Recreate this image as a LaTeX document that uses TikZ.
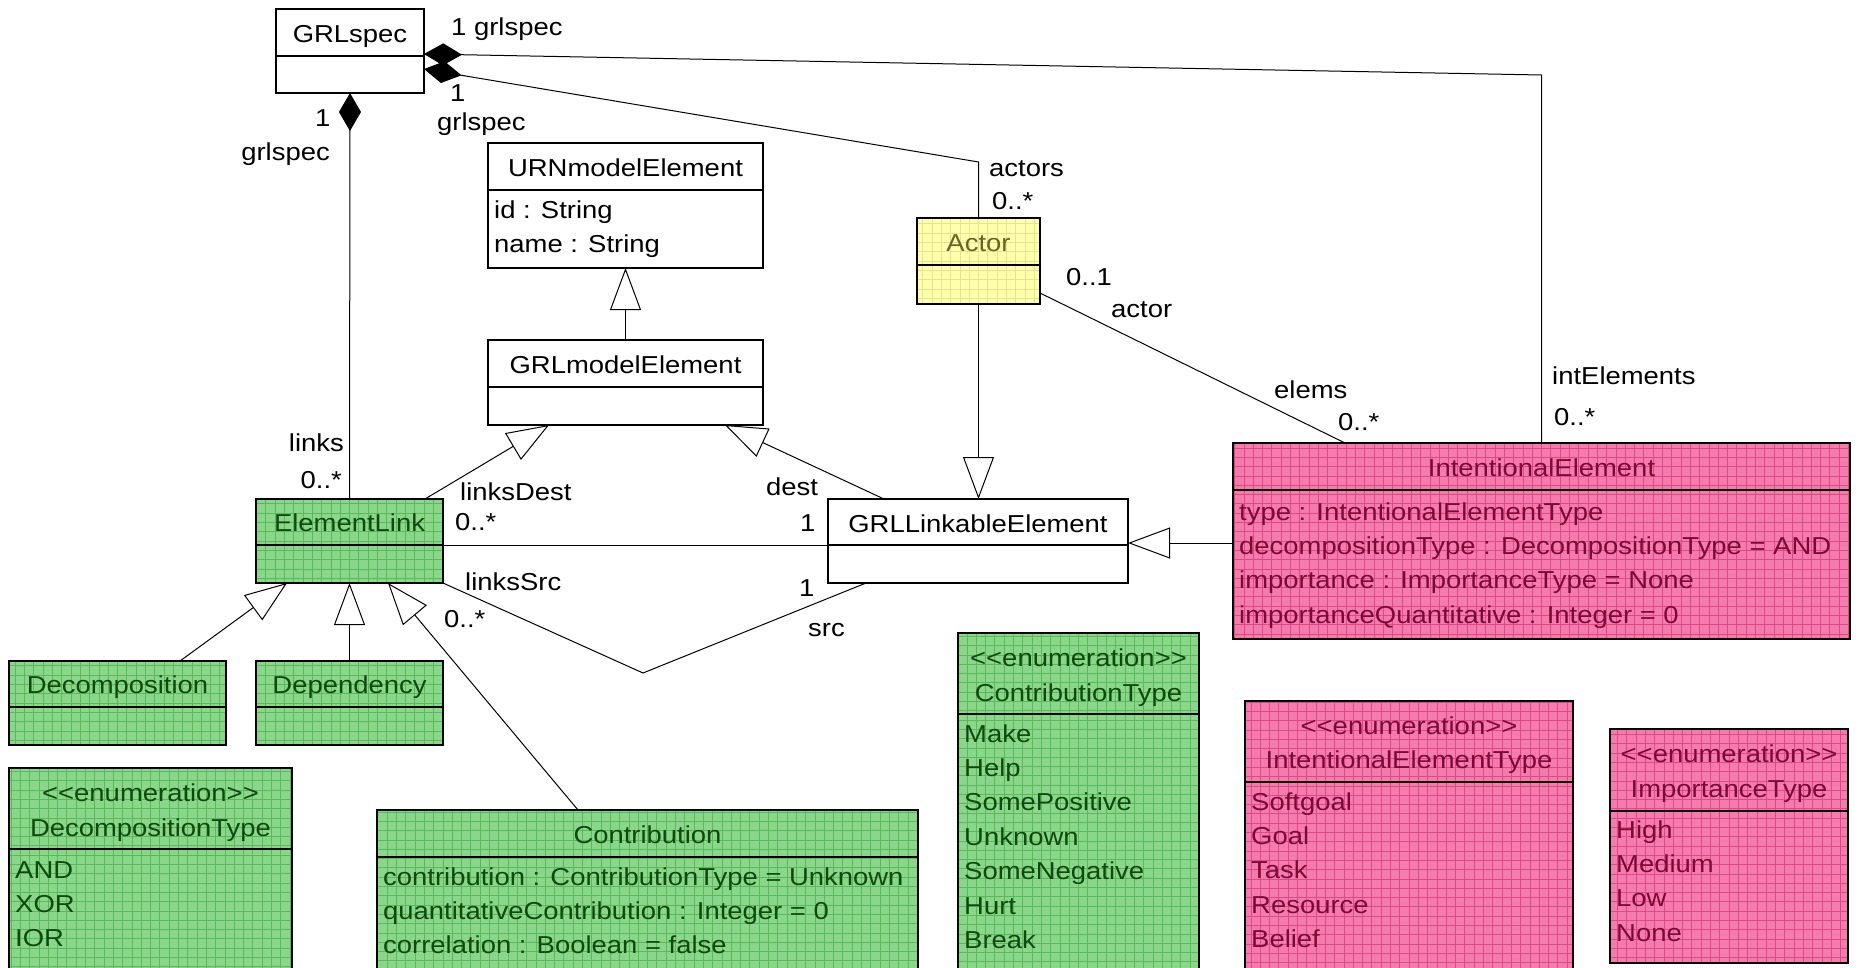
\documentclass[tikz,border=0pt]{standalone}
\usepackage{fontspec}
\setmainfont{Liberation Sans}[FakeStretch=1.12]
\usetikzlibrary{arrows.meta,calc}

\definecolor{greenfill}{RGB}{138,214,138}
\definecolor{greengrid}{RGB}{88,186,88}
\definecolor{greentext}{RGB}{16,72,16}
\definecolor{pinkfill}{RGB}{244,124,172}
\definecolor{pinkgrid}{RGB}{226,72,136}
\definecolor{pinktext}{RGB}{122,10,52}
\definecolor{yellowfill}{RGB}{255,255,172}
\definecolor{yellowgrid}{RGB}{228,228,146}
\definecolor{yellowtext}{RGB}{104,100,40}

\newcommand\umlfont{\fontsize{24.5pt}{29pt}\selectfont}
% the kerns keep the font mapping from turning << and >> into guillemets
\newcommand\enumtag{<\kern0pt<enumeration>\kern0pt>}

\tikzset{
  cls/.style={draw=black, line width=1.2pt, fill=white, rectangle,
    inner sep=0pt, outer sep=0pt, anchor=north west},
  hatched/.style 2 args={fill=#1, path picture={
    \draw[#2, line width=0.7pt] (path picture bounding box.south west)
      grid[step=9.3pt] (path picture bounding box.north east);}},
  greencls/.style={hatched={greenfill}{greengrid}},
  pinkcls/.style={hatched={pinkfill}{pinkgrid}},
  yellowcls/.style={hatched={yellowfill}{yellowgrid}},
  divider/.style={draw=black, line width=1.2pt},
  title/.style={anchor=base, inner sep=0pt, font=\umlfont},
  attr/.style={anchor=base west, inner sep=0pt, font=\umlfont},
  lbl/.style={inner sep=0pt, font=\umlfont, text=black},
  conn/.style={line width=1pt, draw=black},
  gen/.style={conn, arrows={-Triangle[open,length=42pt,width=31pt]}},
  comp/.style={conn, arrows={Diamond[length=38pt,width=22pt]-}},
}

% class box: name, x, y, width, height, header height, style
\newcommand\classbox[7]{%
  \node[cls,#7,minimum width=#4pt,minimum height=#5pt] (#1) at (#2,#3) {};
  \draw[divider] ($(#1.north west)+(0,#6)$) -- ($(#1.north east)+(0,#6)$);
}
% attribute / literal list: box, colour, first baseline, items
\newcommand\attrlist[4]{%
  \foreach \itm [count=\i from 0] in {#4} {%
    \node[attr,text=#2] (#1-a\i) at ($(#1.north west)+(6,{#3+34.4*\i})$) {\itm};
  }%
}

\begin{document}
\begin{tikzpicture}[x=1pt,y=-1pt]
\useasboundingbox (0,0) rectangle (1862,967);
\fill[white] (0,0) rectangle (1862,967);
\clip (0,0) rectangle (1862,967);

% ---- classes
\classbox{GRLspec}{276}{9}{148}{84}{47}{}
\classbox{URN}{488}{143}{275}{125}{47}{}
\classbox{GRLmodel}{488}{340}{275}{85}{47}{}
\classbox{ElementLink}{256}{499}{187}{84}{46}{greencls}
\classbox{GRLLinkable}{828}{499}{300}{84}{46}{}
\classbox{Actor}{917}{218}{123}{86}{47}{yellowcls}
\classbox{IntElem}{1233}{443}{617}{196}{47}{pinkcls}
\classbox{Decomposition}{9}{661}{217}{84}{46}{greencls}
\classbox{Dependency}{256}{661}{187}{84}{46}{greencls}
\classbox{DecompType}{9}{768}{283}{230}{81}{greencls}
\classbox{Contribution}{377}{810}{541}{190}{47}{greencls}
\classbox{ContribType}{958}{633}{241}{360}{81}{greencls}
\classbox{IEType}{1245}{701}{328}{300}{81}{pinkcls}
\classbox{ImpType}{1610}{729}{238}{234}{82}{pinkcls}

% ---- class names
\node[title] (GRLspec-t) at ($(GRLspec.north)+(0,33)$) {GRLspec};
\node[title] (URN-t) at ($(URN.north)+(0,33)$) {URNmodelElement};
\node[title] (GRLmodel-t) at ($(GRLmodel.north)+(0,33)$) {GRLmodelElement};
\node[title,text=greentext] (ElementLink-t) at ($(ElementLink.north)+(0,32)$) {ElementLink};
\node[title] (GRLLinkable-t) at ($(GRLLinkable.north)+(0,33)$) {GRLLinkableElement};
\node[title,text=yellowtext] (Actor-t) at ($(Actor.north)+(0,33)$) {Actor};
\node[title,text=pinktext] (IntElem-t) at ($(IntElem.north)+(0,33)$) {IntentionalElement};
\node[title,text=greentext] (Decomposition-t) at ($(Decomposition.north)+(0,32)$) {Decomposition};
\node[title,text=greentext] (Dependency-t) at ($(Dependency.north)+(0,32)$) {Dependency};
\node[title,text=greentext] (Contribution-t) at ($(Contribution.north)+(0,33)$) {Contribution};

% ---- enumeration headers
\node[title,text=greentext] (DecompType-s) at ($(DecompType.north)+(0,33)$) {\enumtag};
\node[title,text=greentext] (DecompType-t) at ($(DecompType.north)+(0,68)$) {DecompositionType};
\node[title,text=greentext] (ContribType-s) at ($(ContribType.north)+(0,33)$) {\enumtag};
\node[title,text=greentext] (ContribType-t) at ($(ContribType.north)+(0,68)$) {ContributionType};
\node[title,text=pinktext] (IEType-s) at ($(IEType.north)+(0,33)$) {\enumtag};
\node[title,text=pinktext] (IEType-t) at ($(IEType.north)+(0,67)$) {IntentionalElementType};
\node[title,text=pinktext] (ImpType-s) at ($(ImpType.north)+(0,33)$) {\enumtag};
\node[title,text=pinktext] (ImpType-t) at ($(ImpType.north)+(0,68)$) {ImportanceType};

% ---- attributes and literals
\attrlist{URN}{black}{75}{id : String, name : String}
\attrlist{IntElem}{pinktext}{77}{type : IntentionalElementType,
  decompositionType : DecompositionType = AND,
  importance : ImportanceType = None,
  importanceQuantitative : Integer = 0}
\attrlist{Contribution}{greentext}{75}{contribution : ContributionType = Unknown,
  quantitativeContribution : Integer = 0,
  correlation : Boolean = false}
\attrlist{DecompType}{greentext}{110}{AND, XOR, IOR}
\attrlist{ContribType}{greentext}{109}{Make, Help, SomePositive, Unknown,
  SomeNegative, Hurt, Break}
\attrlist{IEType}{pinktext}{109}{Softgoal, Goal, Task, Resource, Belief}
\attrlist{ImpType}{pinktext}{109}{High, Medium, Low, None}

% ---- bend points
\coordinate (c1) at (IntElem.north |- 0,75);
\coordinate (c2) at (Actor.north |- 0,162);
\coordinate (c3) at (643,673);

% ---- compositions
\draw[comp] ($(GRLspec.north east)+(0,45)$) -- (c1) -- (IntElem.north);
\draw[comp] ($(GRLspec.north east)+(0,60)$) -- (c2) -- (Actor.north);
\draw[comp] (GRLspec.south) -- (ElementLink.north);

% ---- generalizations
\draw[gen] (GRLmodel.north) -- (URN.south);
\draw[gen] ($(ElementLink.north east)+(-18,0)$) -- ($(GRLmodel.south west)+(61,0)$);
\draw[gen] ($(GRLLinkable.north west)+(56,0)$) -- ($(GRLmodel.south east)+(-38,0)$);
\draw[gen] (Actor.south) -- (Actor.south |- GRLLinkable.north);
\draw[gen] ($(IntElem.north west)+(0,100)$) -- ($(GRLLinkable.north east)+(0,44)$);
\draw[gen] ($(Decomposition.north west)+(171,0)$) -- ($(ElementLink.south west)+(31,0)$);
\draw[gen] (Dependency.north) -- (ElementLink.south);
\draw[gen] ($(Contribution.north west)+(201,0)$) -- ($(ElementLink.south east)+(-55,0)$);

% ---- associations
\draw[conn] ($(ElementLink.north east)+(0,46)$) -- ($(GRLLinkable.north west)+(0,46)$);
\draw[conn] (ElementLink.south east) -- (c3) -- ($(GRLLinkable.south west)+(38,0)$);
\draw[conn] ($(Actor.north east)+(0,75)$) -- ($(IntElem.north west)+(112,0)$);

% ---- role names and multiplicities
\node[lbl,anchor=base west] (m-ie-1) at (451,35) {1 grlspec};
\node[lbl,anchor=base west] (m-ac-1) at (450,101) {1};
\node[lbl,anchor=base west] (r-ac-g) at (437,130) {grlspec};
\node[lbl,anchor=base west] (m-el-1) at (315,126) {1};
\node[lbl,anchor=base east] (r-el-g) at (330,160) {grlspec};
\node[lbl,anchor=base east] (r-links) at (344,451) {links};
\node[lbl,anchor=base east] (m-links) at (342,488) {0..*};
\node[lbl,anchor=base west] (r-actors) at (989,176) {actors};
\node[lbl,anchor=base west] (m-actors) at (992,209) {0..*};
\node[lbl,anchor=base west] (m-actor) at (1066,285) {0..1};
\node[lbl,anchor=base west] (r-actor) at (1111,317) {actor};
\node[lbl,anchor=base west] (r-elems) at (1274,398) {elems};
\node[lbl,anchor=base west] (m-elems) at (1338,430) {0..*};
\node[lbl,anchor=base west] (r-int) at (1552,384) {intElements};
\node[lbl,anchor=base west] (m-int) at (1554,425) {0..*};
\node[lbl,anchor=base west] (r-ldest) at (460,500) {linksDest};
\node[lbl,anchor=base west] (m-ldest) at (455,530) {0..*};
\node[lbl,anchor=base west] (r-dest) at (766,495) {dest};
\node[lbl,anchor=base west] (m-dest) at (800,531) {1};
\node[lbl,anchor=base west] (r-lsrc) at (465,590) {linksSrc};
\node[lbl,anchor=base west] (m-src) at (799,596) {1};
\node[lbl,anchor=base west] (m-lsrc) at (444,627) {0..*};
\node[lbl,anchor=base west] (r-src) at (808,636) {src};
\end{tikzpicture}
\end{document}
